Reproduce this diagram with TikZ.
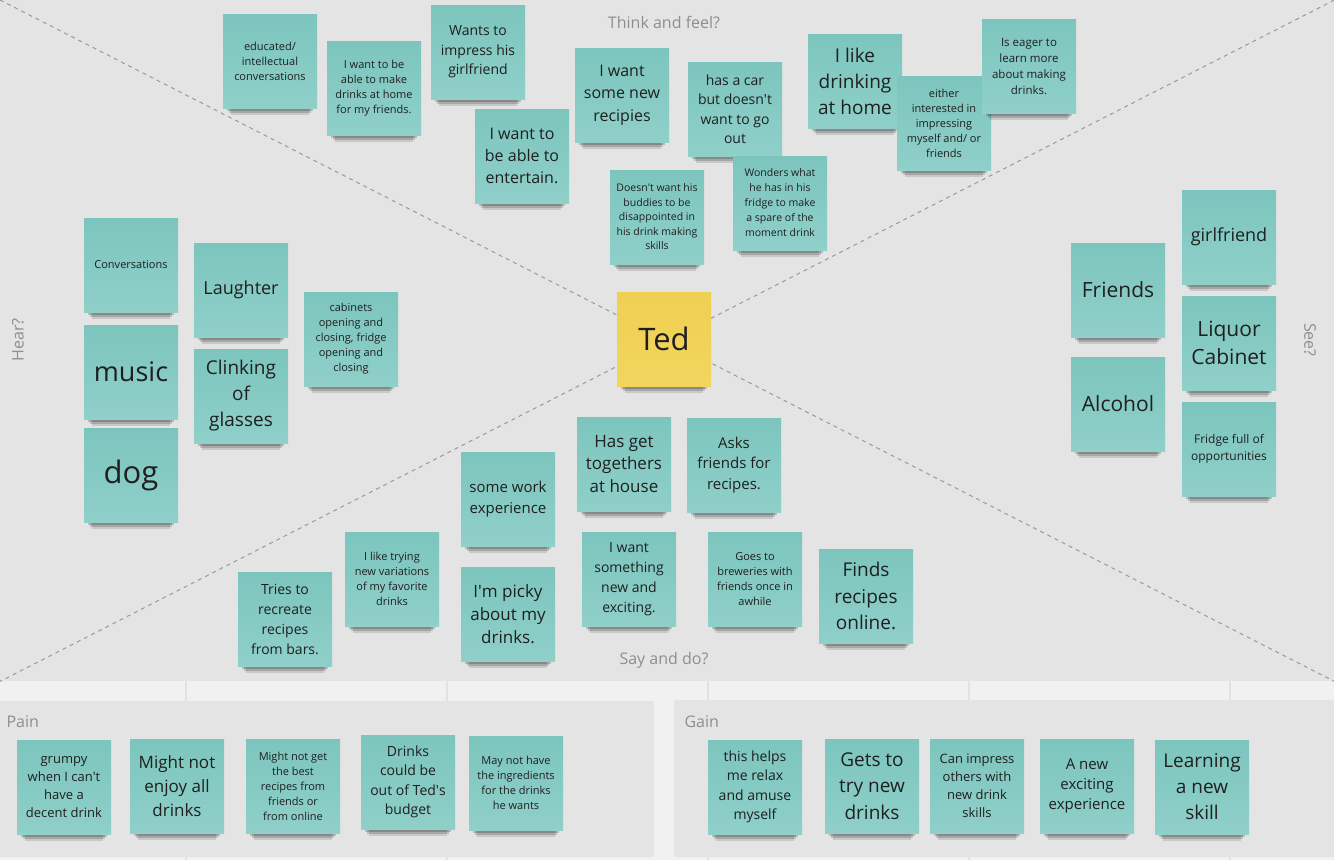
\documentclass[tikz,border=0pt]{standalone}
\usepackage{fontspec}
\setmainfont{Open Sans}
\usepackage{xcolor}
\usepackage{tikz}
\usetikzlibrary{shadows}

\definecolor{boardgray}{HTML}{E4E4E4}
\definecolor{canvasgray}{HTML}{F1F1F1}
\definecolor{gridgray}{HTML}{E2E2E2}
\definecolor{notetop}{HTML}{7CC5BD}
\definecolor{notebottom}{HTML}{8FD0C9}
\definecolor{tedtop}{HTML}{EFD053}
\definecolor{tedbottom}{HTML}{F2D55E}
\definecolor{titlegray}{HTML}{8E8E8E}
\definecolor{linegray}{HTML}{9A9A9A}

\newcommand{\apos}{\textquotesingle}

\tikzset{
	note/.style={minimum size=94pt, inner sep=0pt, align=center, top color=notetop, bottom color=notebottom, text=black!88,
		general shadow={shadow scale=0.84, shadow yshift=-17pt, fill=black, opacity=0.12},
		general shadow={shadow scale=0.88, shadow yshift=-12pt, fill=black, opacity=0.16},
		general shadow={shadow scale=0.92, shadow yshift=-7.5pt, fill=black, opacity=0.18}},
	fs/.style 2 args={font=\fontsize{#1}{#2}\selectfont},
	areatitle/.style={text=titlegray, font=\fontsize{16}{20}\selectfont},
	boardframe/.style={fill=boardgray, inner sep=0pt, anchor=north west},
	diagonal/.style={linegray, line width=1pt, dash pattern=on 4pt off 4pt},
}

\begin{document}
\begin{tikzpicture}[x=1pt, y=-1pt]
			\fill[canvasgray] (0,0) rectangle (1334,860);
			\useasboundingbox (0,0) rectangle (1334,860);
			\node[boardframe, minimum width=1334pt, minimum height=681pt] (board) at (0,0) {};
			\foreach \gx in {186,447,708,969,1230}
				\draw[gridgray, line width=2pt] (\gx,681) -- (\gx,860);
			\node[boardframe, minimum width=654pt, minimum height=156pt] (painframe) at (0,701) {};
			\node[boardframe, minimum width=660pt, minimum height=157pt] (gainframe) at (674,700) {};
			\draw[diagonal] (board.north west) -- (board.south east);
			\draw[diagonal] (board.north east) -- (board.south west);

			\node[areatitle] (think) at (664,22) {Think and feel?};
			\node[areatitle] (say) at (664,660) {Say and do?};
			\node[areatitle, rotate=90] (hear) at (18,340) {Hear?};
			\node[areatitle, rotate=-90] (see) at (1310,340) {See?};
			\node[areatitle, anchor=west] (pain) at (3,722) {Pain};
			\node[areatitle, anchor=west] (gain) at (681,722) {Gain};

			\node[note, fs={11}{15}] (educated) at (270,61) {educated/\\intellectual\\conversations};
			\node[note, fs={11}{15}] (makehome) at (374,88) {I want to be\\able to make\\drinks at home\\for my friends.};
			\node[note, fs={14}{19.5}] (impress) at (478,52) {Wants to\\impress his\\girlfriend};
			\node[note, fs={16}{22}] (entertain) at (522,156) {I want to\\be able to\\entertain.};
			\node[note, fs={16}{22.5}] (recipies) at (622,95) {I want\\some new\\recipies};
			\node[note, fs={14}{19.5}] (car) at (735,109) {has a car\\but doesn\apos t\\want to go\\out};
			\node[note, fs={19}{26}] (likehome) at (855,81) {I like\\drinking\\at home};
			\node[note, fs={11}{15}] (either) at (944,123) {either\\interested in\\impressing\\myself and/ or\\friends};
			\node[note, fs={11.5}{16}] (eager) at (1029,66) {Is eager to\\learn more\\about making\\drinks.};
			\node[note, fs={10.5}{14.5}] (buddies) at (657,217) {Doesn\apos t want his\\buddies to be\\disappointed in\\his drink making\\skills};
			\node[note, fs={10.5}{15}] (wonders) at (780,203) {Wonders what\\he has in his\\fridge to make\\a spare of the\\moment drink};

			\node[note, fs={11}{15}] (conversations) at (131,265) {Conversations};
			\node[note, fs={18}{24}] (laughter) at (241,290) {Laughter};
			\node[note, fs={11}{15}] (cabinets) at (351,339) {cabinets\\opening and\\closing, fridge\\opening and\\closing};
			\node[note, fs={27}{32}] (music) at (131,372) {music};
			\node[note, fs={19}{26}] (clinking) at (241,396) {Clinking\\of\\glasses};
			\node[note, fs={31}{36}] (dog) at (131,475) {dog};

			\node[note, fs={21}{27.5}] (friends) at (1118,290) {Friends};
			\node[note, fs={18}{24}] (girlfriend) at (1229,237) {girlfriend};
			\node[note, fs={21}{27.5}] (liquor) at (1229,343) {Liquor\\Cabinet};
			\node[note, fs={21}{27.5}] (alcohol) at (1118,404) {Alcohol};
			\node[note, fs={12}{16.5}] (fridge) at (1229,449) {Fridge full of\\opportunities};

			\node[note, top color=tedtop, bottom color=tedbottom, fs={31}{36}] (ted) at (664,339) {Ted};

			\node[note, fs={15}{20.7}] (work) at (508,499) {some work\\experience};
			\node[note, fs={17}{22.7}] (together) at (624,464) {Has get\\togethers\\at house};
			\node[note, fs={15}{20.7}] (asks) at (734,465) {Asks\\friends for\\recipes.};
			\node[note, fs={14}{20}] (tries) at (285,619) {Tries to\\recreate\\recipes\\from bars.};
			\node[note, fs={11}{15}] (trying) at (392,579) {I like trying\\new variations\\of my favorite\\drinks};
			\node[note, fs={17}{23.3}] (picky) at (508,614) {I\apos m picky\\about my\\drinks.};
			\node[note, fs={14}{20}] (something) at (629,579) {I want\\something\\new and\\exciting.};
			\node[note, fs={11}{15}] (breweries) at (755,579) {Goes to\\breweries with\\friends once in\\awhile};
			\node[note, fs={19}{26.7}] (finds) at (866,596) {Finds\\recipes\\online.};

			\node[note, fs={13}{17.7}] (grumpy) at (64,787) {grumpy\\when I can\apos t\\have a\\decent drink};
			\node[note, fs={17}{24}] (enjoy) at (177,786) {Might not\\enjoy all\\drinks};
			\node[note, fs={11}{15}] (bestrecipes) at (293,786) {Might not get\\the best\\recipes from\\friends or\\from online};
			\node[note, fs={14}{19.3}] (budget) at (408,782) {Drinks\\could be\\out of Ted\apos s\\budget};
			\node[note, fs={11}{15}] (ingredients) at (516,783) {May not have\\the ingredients\\for the drinks\\he wants};

			\node[note, fs={14}{19.3}] (relax) at (755,787) {this helps\\me relax\\and amuse\\myself};
			\node[note, fs={19}{26.7}] (trynew) at (872,786) {Gets to\\try new\\drinks};
			\node[note, fs={13}{18}] (canimpress) at (977,786) {Can impress\\others with\\new drink\\skills};
			\node[note, fs={15}{20.3}] (exciting) at (1087,786) {A new\\exciting\\experience};
			\node[note, fs={19}{26}] (skill) at (1202,787) {Learning\\a new\\skill};
		\end{tikzpicture}
\end{document}
